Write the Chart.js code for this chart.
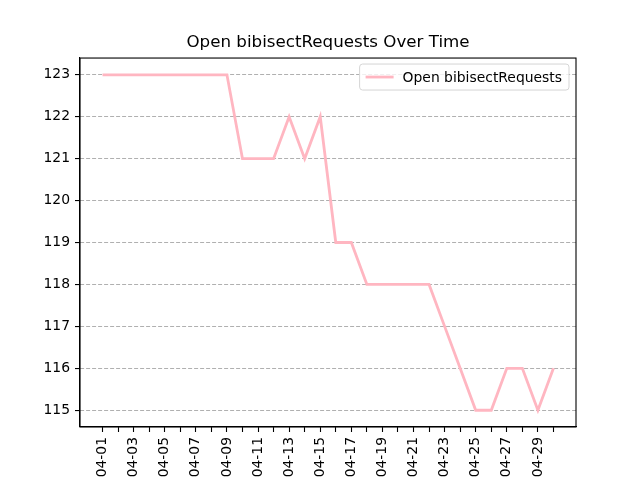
<!DOCTYPE html>
<html>
<head>
<meta charset="utf-8">
<script src="https://cdn.jsdelivr.net/npm/chart.js@4/dist/chart.umd.min.js"></script>
<style>
  body { margin: 0; background: #fff; }
  #wrap { width: 640px; height: 480px; }
</style>
</head>
<body>
<div id="wrap"><canvas id="requests_chart" width="640" height="480"></canvas></div>
<script>
// days shown on the x axis
var dates = ["04-01", "04-02", "04-03", "04-04", "04-05", "04-06", "04-07", "04-08", "04-09", "04-10",
             "04-11", "04-12", "04-13", "04-14", "04-15", "04-16", "04-17", "04-18", "04-19", "04-20",
             "04-21", "04-22", "04-23", "04-24", "04-25", "04-26", "04-27", "04-28", "04-29", "04-30"];

// open bibisect requests per day
var openRequests = [123, 123, 123, 123, 123, 123, 123, 123, 123, 121,
                    121, 121, 122, 121, 122, 119, 119, 118, 118, 118,
                    118, 118, 117, 116, 115, 115, 116, 116, 115, 116];

var seriesLabel = "Open bibisectRequests";
var chartTitle = "Open bibisectRequests Over Time";

function getPoints() {
  var points = [];
  for (var i = 0; i < openRequests.length; i++) {
    points.push({ x: i, y: openRequests[i] });
  }
  return points;
}

Chart.defaults.font.family = "'DejaVu Sans', sans-serif";
Chart.defaults.color = "#000";

// matplotlib style frame + legend inside the axes
var frameAndLegend = {
  id: 'frameAndLegend',
  afterDraw: function(chart) {
    var ctx = chart.ctx;
    var a = chart.chartArea;
    ctx.save();
    ctx.strokeStyle = "#000";
    ctx.lineWidth = 1.1;
    ctx.strokeRect(a.left, a.top, a.right - a.left, a.bottom - a.top);

    // legend box
    var ds = chart.data.datasets[0];
    ctx.font = "13.9px 'DejaVu Sans', sans-serif";
    var tw = ctx.measureText(ds.label).width;
    var w = tw + 50, h = 26;
    var x = a.right - 7 - w, y = a.top + 6;
    ctx.beginPath();
    ctx.roundRect(x, y, w, h, 3);
    ctx.fillStyle = "rgba(255,255,255,0.8)";
    ctx.fill();
    ctx.strokeStyle = "#d5d5d5";
    ctx.lineWidth = 1;
    ctx.stroke();

    ctx.beginPath();
    ctx.moveTo(x + 6, y + h / 2);
    ctx.lineTo(x + 34, y + h / 2);
    ctx.strokeStyle = ds.borderColor;
    ctx.lineWidth = ds.borderWidth;
    ctx.stroke();

    ctx.fillStyle = "#000";
    ctx.textBaseline = "middle";
    ctx.fillText(ds.label, x + 43, y + h / 2 + 1);
    ctx.restore();
  }
};

new Chart(document.getElementById("requests_chart"), {
  type: 'line',
  data: {
    datasets: [{
      label: seriesLabel,
      data: getPoints(),
      borderColor: "#ffb6c1",
      backgroundColor: "#ffb6c1",
      borderWidth: 2.8,
      pointRadius: 0,
      tension: 0,
      fill: false
    }]
  },
  options: {
    responsive: false,
    animation: false,
    layout: { padding: { left: 16, right: 0, top: 0, bottom: 0 } },
    plugins: {
      legend: { display: false },
      tooltip: { enabled: false },
      title: {
        display: true,
        text: chartTitle,
        font: { size: 16.7, weight: 'normal' },
        padding: { top: 33, bottom: 5 }
      }
    },
    scales: {
      x: {
        type: 'linear',
        min: -1.45,
        max: 30.45,
        afterBuildTicks: function(scale) {
          scale.ticks = scale.ticks.filter(function(t) {
            return Number.isInteger(t.value) && t.value >= 0 && t.value < dates.length;
          });
        },
        afterFit: function(scale) { scale.height = 53; },
        ticks: {
          stepSize: 1,
          autoSkip: false,
          includeBounds: false,
          maxRotation: 90,
          minRotation: 90,
          padding: 5,
          font: { size: 13.9 },
          callback: function(value) {
            return value % 2 === 0 ? dates[value] : '';
          }
        },
        grid: {
          drawOnChartArea: false,
          drawTicks: true,
          tickLength: 5,
          tickColor: "#000",
          tickWidth: 1.1
        },
        border: { color: "#000", width: 1.1 }
      },
      y: {
        min: 114.6,
        max: 123.4,
        afterBuildTicks: function(scale) {
          scale.ticks = scale.ticks.filter(function(t) {
            return Number.isInteger(t.value);
          });
        },
        afterFit: function(scale) { scale.width = 64; },
        ticks: {
          stepSize: 1,
          includeBounds: false,
          padding: 5,
          font: { size: 13.9 }
        },
        grid: {
          color: "#b0b0b0",
          lineWidth: 1.1,
          drawTicks: true,
          tickLength: 5,
          tickColor: "#000",
          tickWidth: 1.1,
          tickBorderDash: []
        },
        border: { color: "#000", width: 1.1, dash: [4, 2] }
      },
      // empty right axis only to reserve the right margin
      yRight: {
        position: 'right',
        min: 114.6,
        max: 123.4,
        afterFit: function(scale) { scale.width = 64; },
        ticks: { display: false },
        grid: { display: false },
        border: { display: false }
      }
    }
  },
  plugins: [frameAndLegend]
});
</script>
</body>
</html>
